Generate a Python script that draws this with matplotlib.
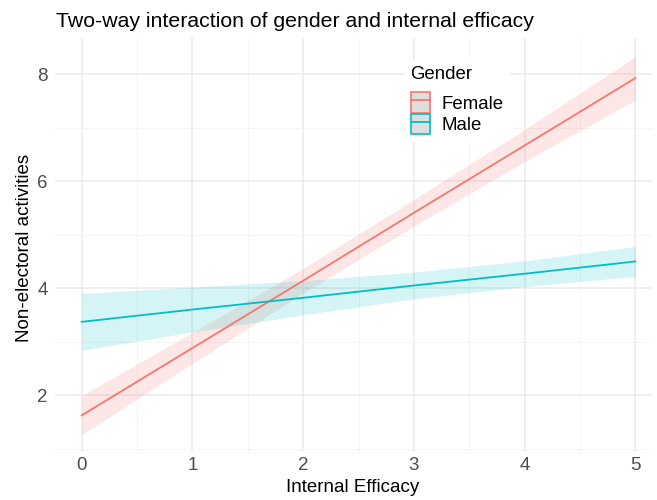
import matplotlib.pyplot as plt
from matplotlib.patches import Patch
from matplotlib.lines import Line2D
import numpy as np

plt.rcParams['font.family'] = ['Liberation Sans', 'DejaVu Sans']

# Predicted values
efficacy = [0, 1, 2, 3, 4, 5]
female_fit = [1.62, 2.88, 4.14, 5.41, 6.67, 7.93]
female_low = [1.26, 2.59, 3.91, 5.16, 6.37, 7.52]
female_high = [1.99, 3.17, 4.37, 5.66, 6.97, 8.33]
male_fit = [3.37, 3.60, 3.82, 4.05, 4.27, 4.50]
male_low = [2.84, 3.18, 3.50, 3.80, 4.03, 4.22]
male_high = [3.90, 4.02, 4.14, 4.30, 4.51, 4.78]

groups = ['Female', 'Male']
colors = {'Female': '#F8766D', 'Male': '#00BFC4'}

W, H = 657, 500
fig = plt.figure(figsize=(W / 100, H / 100), dpi=100)
# panel box in pixels: left 54.5, right 652, top 38, bottom 452
ax = fig.add_axes([54.5 / W, 1 - 452 / H, (652 - 54.5) / W, (452 - 38) / H])

series = {
    'Female': (female_fit, female_low, female_high),
    'Male': (male_fit, male_low, male_high),
}
for g in groups:
    fit, lo, hi = series[g]
    ax.fill_between(efficacy, lo, hi, color=colors[g], alpha=0.17, linewidth=0)
    ax.plot(efficacy, fit, color=colors[g], lw=1.3)

ax.set_xlim(-0.246, 5.15)
ax.set_ylim(0.935, 8.68)
ax.set_xticks([0, 1, 2, 3, 4, 5])
ax.set_yticks([2, 4, 6, 8])
ax.set_xticks(np.arange(0.5, 5, 1), minor=True)
ax.set_yticks([1, 3, 5, 7], minor=True)
ax.grid(True, which='major', color='#EBEBEB', lw=1.1)
ax.grid(True, which='minor', color='#F3F3F3', lw=0.6)
ax.set_axisbelow(True)
for s in ax.spines.values():
    s.set_visible(False)
ax.tick_params(which='both', length=0)
ax.tick_params(axis='both', labelsize=13.5, labelcolor='#4D4D4D')
ax.tick_params(axis='x', pad=3.3)
ax.tick_params(axis='y', pad=4.7)

ax.set_xlabel('Internal Efficacy', fontsize=13.5, va='baseline')
ax.xaxis.set_label_coords(353 / W, 1 - 492 / H, transform=fig.transFigure)
fig.text(25 / W, 1 - 247.5 / H, 'Non-electoral activities', fontsize=13.5,
         rotation=90, ha='center', va='center')
fig.text(56 / W, 1 - 27 / H, 'Two-way interaction of gender and internal efficacy',
         fontsize=15.3, va='baseline', ha='left')

handles = [(Patch(facecolor='#DEDEDE', edgecolor=colors[g], lw=1.2),
            Line2D([], [], color=colors[g], lw=1.3)) for g in groups]
leg = ax.legend(handles, groups, title='Gender', loc='upper left',
                bbox_to_anchor=(405 / W, 1 - 60 / H), bbox_transform=fig.transFigure,
                borderaxespad=0, frameon=True, fancybox=False, edgecolor='white',
                framealpha=1, fontsize=13.4, title_fontsize=13.4,
                handlelength=1.07, handleheight=1.3, labelspacing=0.05,
                handletextpad=0.6, borderpad=0.3)
leg._legend_box.align = 'left'
leg._legend_box.sep = 7

fig.savefig('out.png', dpi=100)
